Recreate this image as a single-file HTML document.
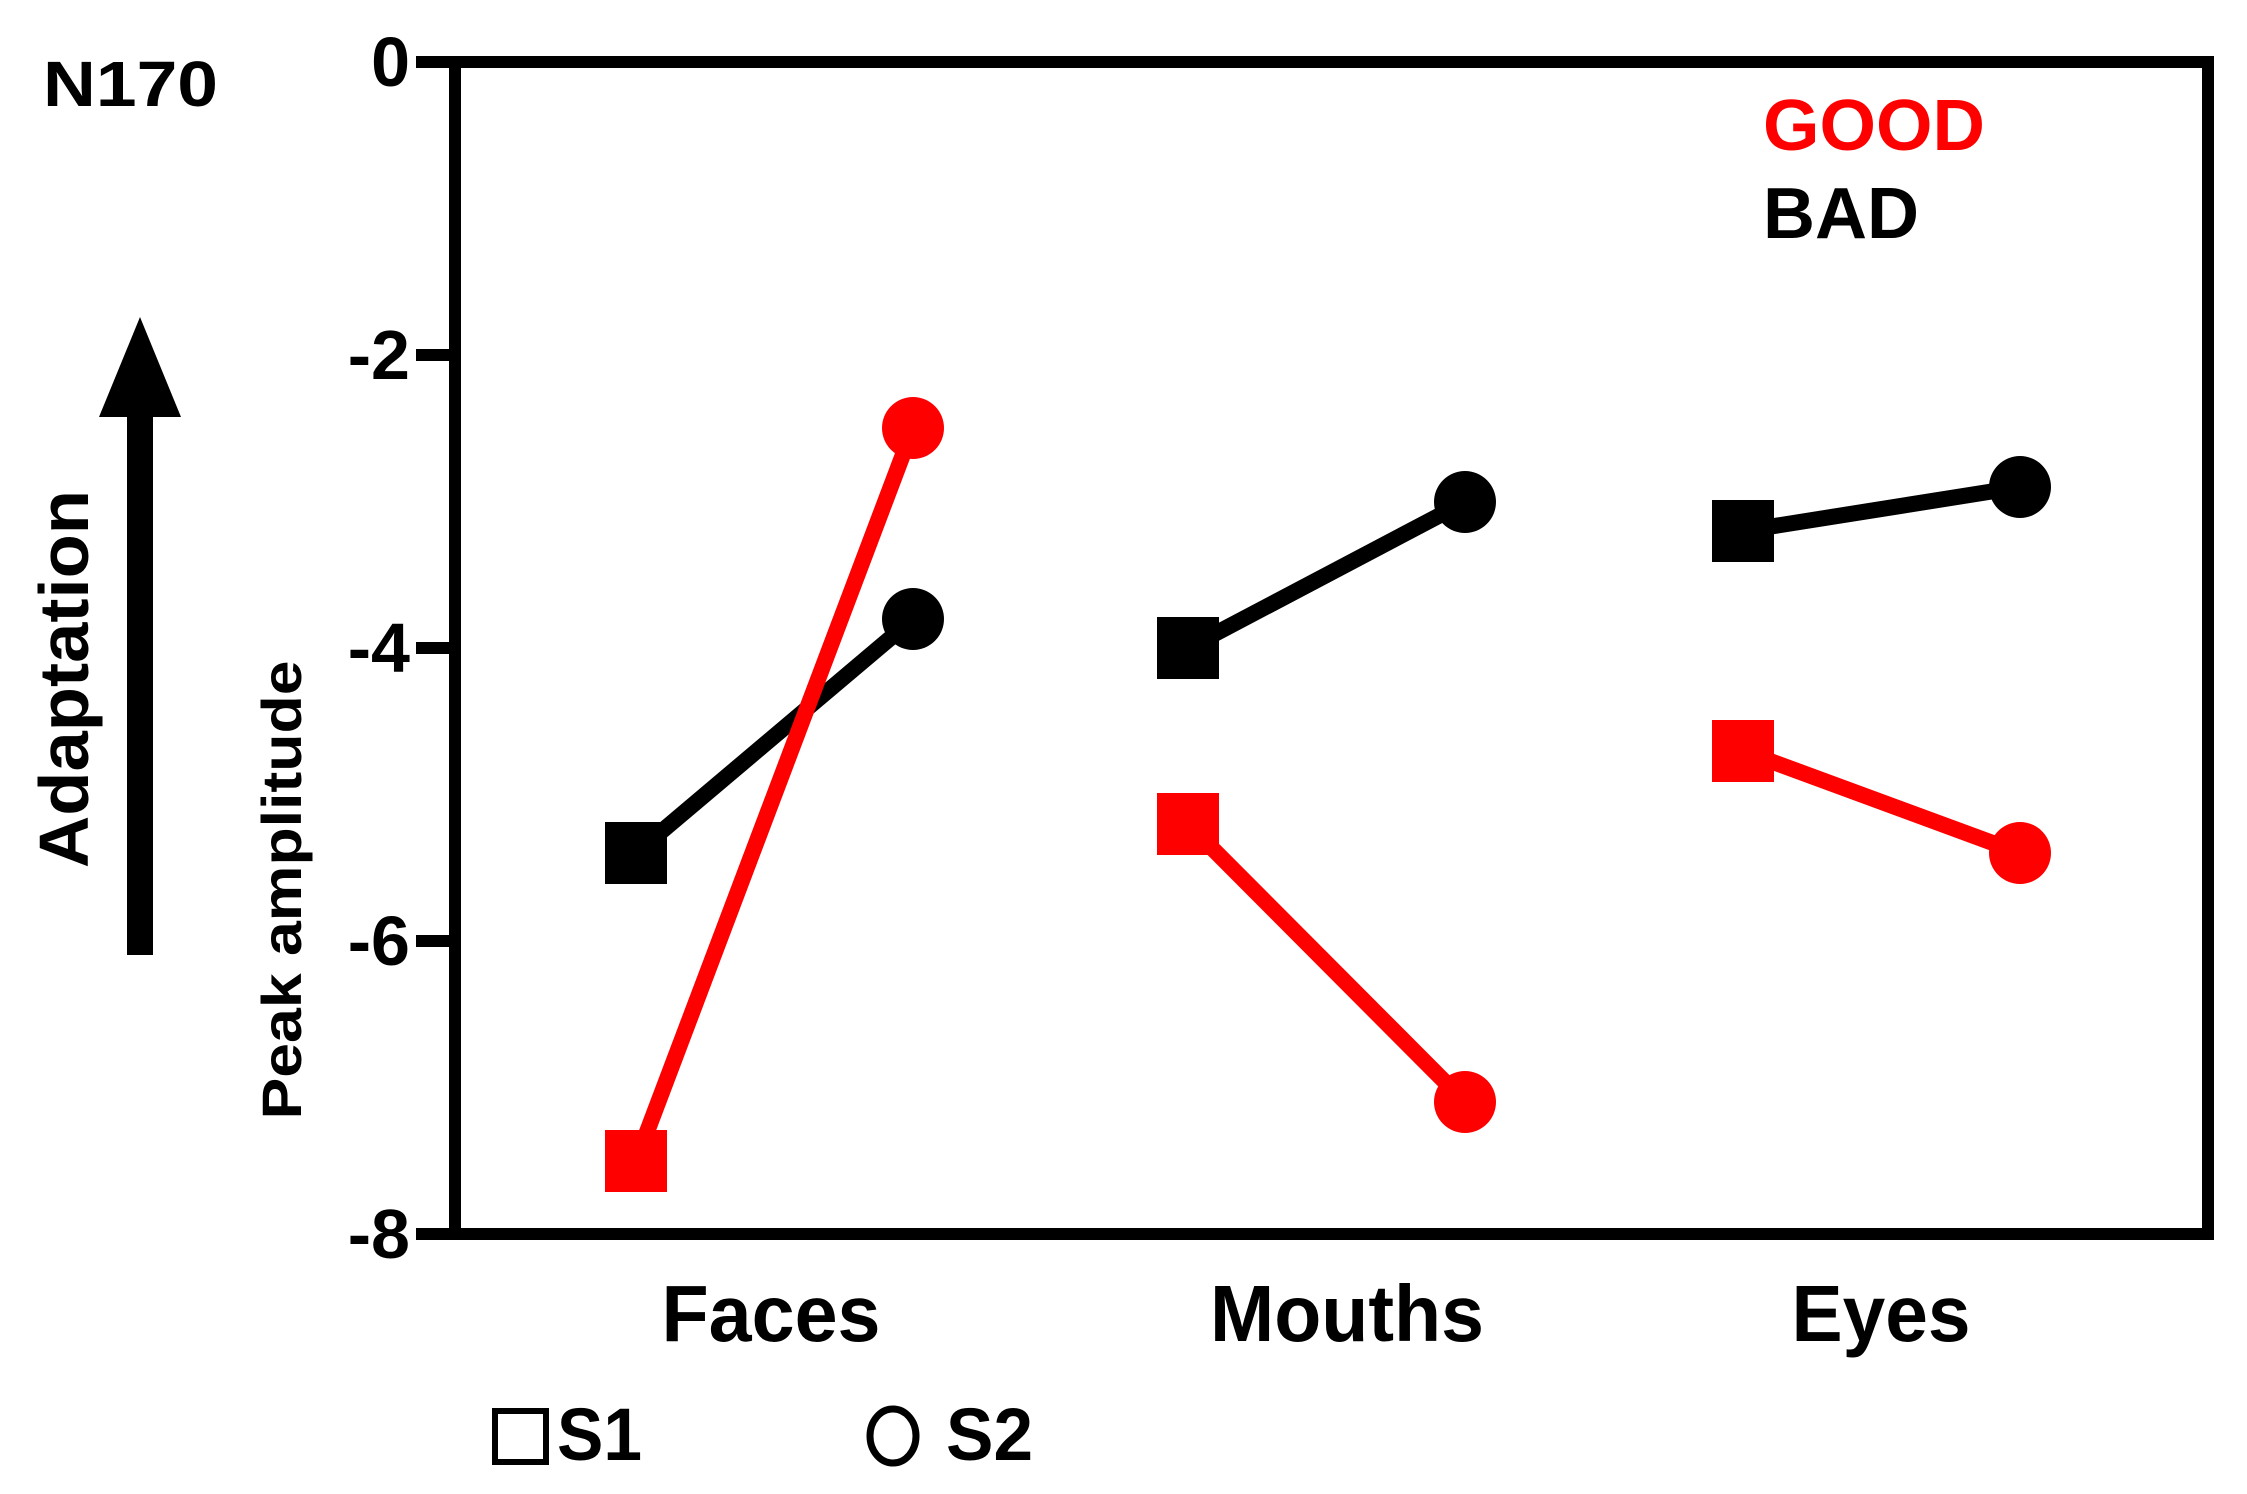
<!DOCTYPE html>
<html><head><meta charset="utf-8"><style>html,body{margin:0;padding:0;background:#fff}svg{display:block}</style></head>
<body>
<svg width="2247" height="1494" viewBox="0 0 2247 1494" xmlns="http://www.w3.org/2000/svg" font-family="Liberation Sans, Arial, sans-serif" font-weight="bold">
<rect width="2247" height="1494" fill="#fff"/>
<rect x="455" y="62" width="1753" height="1172" fill="none" stroke="#000" stroke-width="12"/>
<g stroke="#000" stroke-width="12">
<line x1="416" y1="62" x2="455" y2="62"/>
<line x1="416" y1="355" x2="455" y2="355"/>
<line x1="416" y1="648" x2="455" y2="648"/>
<line x1="416" y1="941" x2="455" y2="941"/>
<line x1="416" y1="1234" x2="455" y2="1234"/>
</g>
<g font-size="70" text-anchor="end" fill="#000">
<text x="410" y="86">0</text>
<text x="410" y="379">-2</text>
<text x="410" y="672">-4</text>
<text x="410" y="965">-6</text>
<text x="410" y="1258">-8</text>
</g>
<text x="43" y="106" font-size="64" textLength="175" lengthAdjust="spacingAndGlyphs">N170</text>
<text transform="translate(301,890) rotate(-90)" font-size="56" text-anchor="middle" textLength="459" lengthAdjust="spacingAndGlyphs">Peak amplitude</text>
<text transform="translate(88,679) rotate(-90)" font-size="70" text-anchor="middle" textLength="378" lengthAdjust="spacingAndGlyphs">Adaptation</text>
<rect x="127" y="410" width="26" height="545" fill="#000"/>
<polygon points="140,317 99,417 181,417" fill="#000"/>
<g font-size="80" text-anchor="middle">
<text x="771" y="1341" textLength="219" lengthAdjust="spacingAndGlyphs">Faces</text>
<text x="1347" y="1341" textLength="274" lengthAdjust="spacingAndGlyphs">Mouths</text>
<text x="1881" y="1341" textLength="179" lengthAdjust="spacingAndGlyphs">Eyes</text>
</g>
<text x="1763" y="150" font-size="72" fill="#ff0000" textLength="222" lengthAdjust="spacingAndGlyphs">GOOD</text>
<text x="1763" y="238" font-size="72" fill="#000" textLength="156" lengthAdjust="spacingAndGlyphs">BAD</text>
<rect x="495" y="1411" width="51" height="51" fill="none" stroke="#000" stroke-width="6"/>
<text x="557" y="1460" font-size="74" textLength="85" lengthAdjust="spacingAndGlyphs">S1</text>
<ellipse cx="893" cy="1436" rx="23" ry="27" fill="none" stroke="#000" stroke-width="7"/>
<text x="946" y="1460" font-size="74" textLength="87" lengthAdjust="spacingAndGlyphs">S2</text>
<g stroke-width="16" fill="none">
<line x1="636" y1="853" x2="913" y2="619" stroke="#000"/>
<line x1="636" y1="1161" x2="913" y2="428" stroke="#ff0000"/>
<line x1="1188" y1="648" x2="1465" y2="502" stroke="#000"/>
<line x1="1188" y1="824" x2="1465" y2="1102" stroke="#ff0000"/>
<line x1="1743" y1="531" x2="2020" y2="487" stroke="#000"/>
<line x1="1743" y1="751" x2="2020" y2="853" stroke="#ff0000"/>
</g>
<g>
<rect x="605" y="822" width="62" height="62" fill="#000"/>
<rect x="605" y="1130" width="62" height="62" fill="#ff0000"/>
<circle cx="913" cy="619" r="31" fill="#000"/>
<circle cx="913" cy="428" r="31" fill="#ff0000"/>
<rect x="1157" y="617" width="62" height="62" fill="#000"/>
<rect x="1157" y="793" width="62" height="62" fill="#ff0000"/>
<circle cx="1465" cy="502" r="31" fill="#000"/>
<circle cx="1465" cy="1102" r="31" fill="#ff0000"/>
<rect x="1712" y="500" width="62" height="62" fill="#000"/>
<rect x="1712" y="720" width="62" height="62" fill="#ff0000"/>
<circle cx="2020" cy="487" r="31" fill="#000"/>
<circle cx="2020" cy="853" r="31" fill="#ff0000"/>
</g>
</svg>
</body></html>
